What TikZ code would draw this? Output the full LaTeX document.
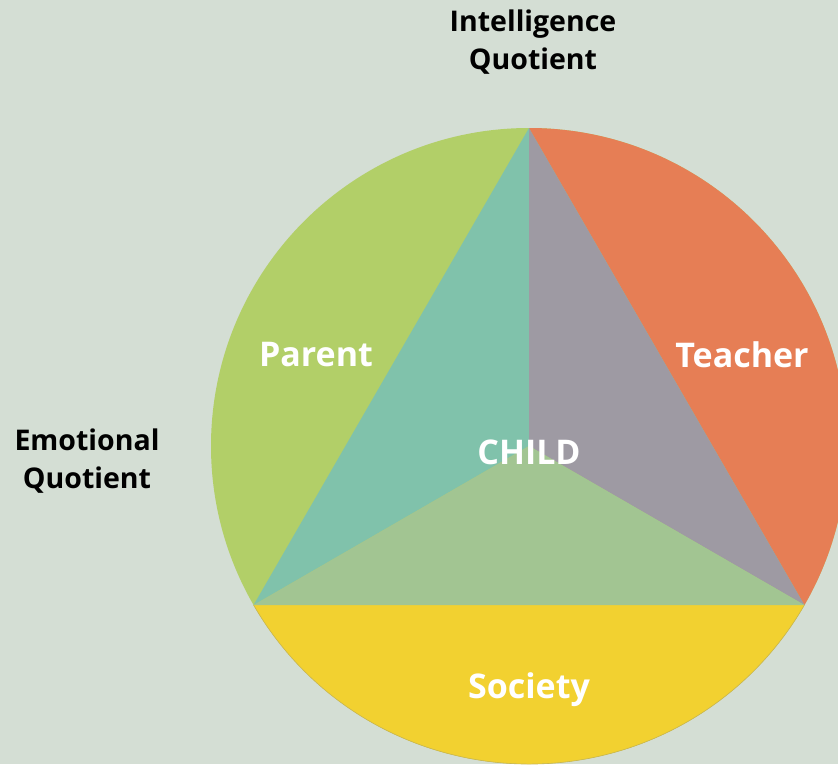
\documentclass[tikz,border=0pt]{standalone}
\usepackage{fontspec}
\setmainfont{Open Sans}
\begin{document}
\begin{tikzpicture}[x=1pt,y=-1pt,
  blacklabel/.style={font=\fontsize{28.5}{38}\selectfont\bfseries, text=black, align=center, inner sep=0pt},
  whitelabel/.style={font=\fontsize{34}{40}\selectfont\bfseries, text=white, inner sep=0pt}]
\definecolor{bgc}{HTML}{D4DED4}
\definecolor{parentc}{HTML}{B2CF68}
\definecolor{teacherc}{HTML}{E67E55}
\definecolor{societyc}{HTML}{F2D130}
\definecolor{tealc}{HTML}{80C2AB}
\definecolor{grayc}{HTML}{9E9AA3}
\definecolor{lgreenc}{HTML}{A2C592}
\definecolor{rimc}{HTML}{C9B650}
\fill[bgc] (0,0) rectangle (838,764);
\useasboundingbox (0,0) rectangle (838,764);
\coordinate (O) at (529,446);
\coordinate (A) at (529,128);
\coordinate (L) at (253.6,605);
\coordinate (R) at (804.4,605);
\coordinate (C) at (529,446);
\begin{scope}
  \clip (O) circle[radius=318];
  \fill[parentc] (0,0) rectangle (838,764);
  \fill[teacherc] (A) -- (R) -- (900,700) -- (900,0) -- (529,0) -- cycle;
  \fill[societyc] (L) -- (R) -- (900,800) -- (0,800) -- cycle;
\end{scope}
\draw[rimc, line width=0.6pt] (L) arc[start angle=150, end angle=30, radius=318];
\fill[tealc] (A) -- (L) -- (C) -- cycle;
\fill[grayc] (A) -- (C) -- (R) -- cycle;
\fill[lgreenc] (L) -- (R) -- (C) -- cycle;
\node[blacklabel] (iq) at (533,42) {Intelligence\\Quotient};
\node[blacklabel] (eq) at (87,461) {Emotional\\Quotient};
\node[whitelabel] (parent) at (316,355) {Parent};
\node[whitelabel] (teacher) at (742,355) {Teacher};
\node[whitelabel] (child) at (529,452) {CHILD};
\node[whitelabel] (society) at (529,690) {Society};
\end{tikzpicture}
\end{document}
